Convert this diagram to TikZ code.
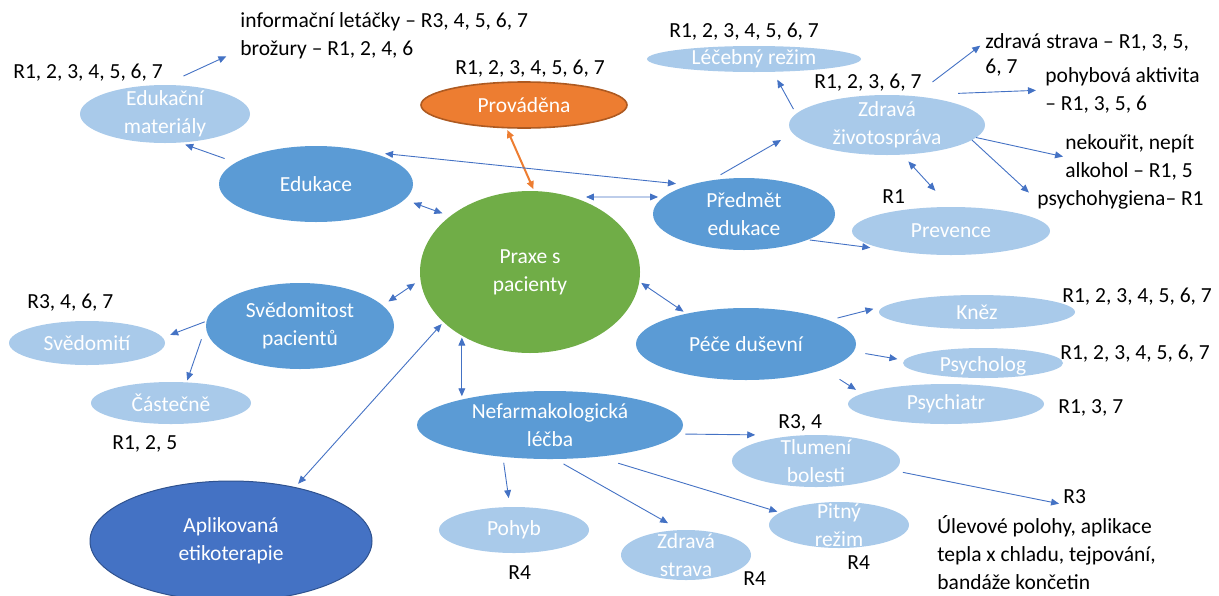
\documentclass[tikz,border=0pt]{standalone}
\usepackage{fontspec}
\setmainfont{Carlito}
\usetikzlibrary{shapes.geometric,arrows.meta}
\definecolor{accdark}{HTML}{5B9BD5}
\definecolor{acclight}{HTML}{A9CAEA}
\definecolor{accline}{HTML}{4472C4}
\definecolor{accgreen}{HTML}{70AD47}
\definecolor{accorange}{HTML}{ED7D31}
\definecolor{accorangeedge}{HTML}{AE5A21}
\definecolor{accnavy}{HTML}{4472C4}
\definecolor{accnavyedge}{HTML}{2F528F}

\begin{document}
\begin{tikzpicture}[x=0.5pt,y=-0.5pt,font=\fontsize{10.75pt}{14pt}\selectfont,
  bubble/.style={ellipse,inner sep=0pt,outer sep=0pt},
  lbl/.style={align=center,text=white,inner sep=0pt},
  dark/.style={bubble,fill=accdark},
  light/.style={bubble,fill=acclight},
  txt/.style={inner sep=0pt,anchor=west,align=left},
  link/.style={accline,line width=0.45pt,-{Triangle[length=4pt,width=3.4pt]}},
  both/.style={link,{Triangle[length=4pt,width=3.4pt]}-{Triangle[length=4pt,width=3.4pt]}}]

\useasboundingbox (0,0) rectangle (1219,595);

\begin{scope}
\node[bubble,fill=accgreen,minimum width=110pt,minimum height=81pt,label={[lbl]center:Praxe s\\pacienty}] (praxe) at (530,272) {};
\node[bubble,fill=accorange,draw=accorangeedge,line width=0.8pt,minimum width=103pt,minimum height=23pt,label={[lbl]center:Prováděna}] (provad) at (524,105) {};
\node[dark,minimum width=97pt,minimum height=38pt,label={[lbl]center:Edukace}] (edu) at (316,184) {};
\node[light,minimum width=85pt,minimum height=29pt,label={[lbl]center:Edukační\\materiály}] (edumat) at (165,114) {};
\node[light,minimum width=107pt,minimum height=13pt,label={[lbl]center:Léčebný režim}] (lecreg) at (754,59) {};
\node[light,minimum width=98pt,minimum height=30pt,label={[lbl]center:Zdravá\\životospráva}] (zdrav) at (887,125) {};
\node[dark,minimum width=91pt,minimum height=36pt,label={[lbl]center:Předmět\\edukace}] (predmet) at (744,214) {};
\node[light,minimum width=99pt,minimum height=24pt,label={[lbl]center:Prevence}] (prev) at (951,231) {};
\node[dark,minimum width=94pt,minimum height=43pt,label={[lbl]center:Svědomitost\\pacientů}] (svedom) at (300,326) {};
\node[light,minimum width=78pt,minimum height=22pt,label={[lbl]center:Svědomití}] (svedomiti) at (87,343) {};
\node[light,minimum width=80pt,minimum height=21pt,label={[lbl]center:Částečně}] (castecne) at (171,403) {};
\node[dark,minimum width=110pt,minimum height=36pt,label={[lbl]center:Péče duševní}] (pece) at (746,344) {};
\node[light,minimum width=98pt,minimum height=17pt,label={[lbl]center:Kněz}] (knez) at (977,312) {};
\node[light,minimum width=80pt,minimum height=15pt,label={[lbl,yshift=-1.5pt]center:Psycholog}] (psycholog) at (983,363) {};
\node[light,minimum width=98pt,minimum height=20pt,label={[lbl]center:Psychiatr}] (psychiatr) at (946,404) {};
\node[dark,minimum width=133pt,minimum height=34pt,label={[lbl]center:Nefarmakologická\\léčba}] (nefarm) at (550,425) {};
\node[light,minimum width=84pt,minimum height=26pt,label={[lbl]center:Tlumení\\bolesti}] (tlum) at (816,461) {};
\node[light,minimum width=75pt,minimum height=23pt,label={[lbl]center:Pohyb}] (pohyb) at (514,530) {};
\node[light,minimum width=65pt,minimum height=25pt,label={[lbl]center:Zdravá\\strava}] (zdrstr) at (686,555) {};
\node[light,minimum width=70pt,minimum height=23pt,label={[lbl]center:Pitný\\režim}] (pitny) at (839,525) {};
\node[bubble,fill=accnavy,draw=accnavyedge,line width=0.5pt,minimum width=141pt,minimum height=60pt,label={[lbl]center:Aplikovaná\\etikoterapie}] (aplik) at (231,541) {};
\end{scope}

\node[txt] (r_edumat) at (13,73) {R1, 2, 3, 4, 5, 6, 7};
\node[txt] (info1) at (240,22) {informační letáčky – R3, 4, 5, 6, 7};
\node[txt] (info2) at (240,50) {brožury – R1, 2, 4, 6};
\node[inner sep=0pt] (r_provad) at (530,69) {R1, 2, 3, 4, 5, 6, 7};
\node[txt] (r_lecreg) at (669,32) {R1, 2, 3, 4, 5, 6, 7};
\node[txt] (r_zdrav) at (814,83) {R1, 2, 3, 6, 7};
\node[txt] (strava1) at (985,42) {zdravá strava – R1, 3, 5,};
\node[txt] (strava2) at (985,68) {6, 7};
\node[txt] (pohybakt) at (1045,90) {pohybová aktivita\\– R1, 3, 5, 6};
\node[txt] (kour) at (1065,157) {nekouřit, nepít\\alkohol – R1, 5};
\node[txt] (psychohyg) at (1037,200) {psychohygiena– R1};
\node[txt] (r_prev) at (882,197) {R1};
\node[txt] (r_svedomiti) at (27,303) {R3, 4, 6, 7};
\node[txt] (r_castecne) at (112,444) {R1, 2, 5};
\node[txt] (r_knez) at (1062,297) {R1, 2, 3, 4, 5, 6, 7};
\node[txt] (r_psycholog) at (1060,354) {R1, 2, 3, 4, 5, 6, 7};
\node[txt] (r_psychiatr) at (1058,408) {R1, 3, 7};
\node[txt] (r_tlum) at (778,423) {R3, 4};
\node[txt] (r_ulev) at (1063,497) {R3};
\node[txt] (ulev) at (937,553) {Úlevové polohy, aplikace\\tepla x chladu, tejpování,\\bandáže končetin};
\node[txt] (r_pohyb) at (508,573) {R4};
\node[txt] (r_zdrstr) at (743,579) {R4};
\node[txt] (r_pitny) at (847,563) {R4};

\draw[both,accorange,line width=1pt,shorten <=1.2pt,shorten >=1pt] (provad.232) -- (praxe.87);
\draw[both,shorten <=4.7pt,shorten >=4.2pt] (edu.-10) -- (praxe.145);
\draw[both,shorten <=8.8pt,shorten >=6.9pt] (edu.32) -- (predmet.152);
\draw[both,shorten <=7.2pt,shorten >=2.9pt] (praxe.61) -- (predmet.168);
\draw[both,shorten <=3.5pt,shorten >=3.3pt] (svedom.14) -- (praxe.184);
\draw[both,shorten <=1.2pt,shorten >=1.8pt] (praxe.-5) -- (pece.153);
\draw[both,shorten <=1.4pt,shorten >=2.5pt] (praxe.210) -- (aplik.40);
\draw[both,shorten <=1pt,shorten >=1pt] (praxe.223) -- (praxe.223 |- nefarm.162);

\draw[link,shorten <=6pt,shorten >=3pt] (edu.165) -- (edumat.-63);
\draw[link,shorten <=10.7pt,shorten >=7.5pt] (edumat.92) -- (info2.west);

\draw[link,shorten <=5.8pt,shorten >=6.8pt] (predmet.135) -- (zdrav.185);
\draw[link,shorten <=1pt,shorten >=13pt] (predmet.-22) -- (prev.200);
\draw[link,shorten <=2.7pt,shorten >=4.5pt] (zdrav.173) -- (lecreg.-34);
\draw[both,shorten <=4.6pt,shorten >=11pt] (zdrav.-63) -- (prev.92);
\draw[link,shorten <=11.7pt,shorten >=3pt] (zdrav.47) -- (strava1.west);
\draw[link,shorten <=27pt,shorten >=4.5pt] (zdrav.60) -- (pohybakt.west);
\draw[link,shorten >=1pt] (zdrav.-8) -- (kour.west);
\draw[link,shorten >=5.5pt] (zdrav.-10) -- (psychohyg.west);

\draw[link,shorten <=1pt,shorten >=4pt] (svedom.177) -- (svedomiti.4);
\draw[link,shorten <=7pt,shorten >=1pt] (svedom.180) -- (castecne.53);

\draw[link,shorten <=4.5pt,shorten >=18pt] (pece.16) -- (knez.170);
\draw[link,shorten <=6pt,shorten >=3.5pt] (pece.-4) -- (psycholog.178);
\draw[link,shorten <=9.2pt,shorten >=3.6pt] (pece.-18) -- (psychiatr.173);

\draw[link,shorten <=3.5pt,shorten >=23pt] (nefarm.-4) -- (tlum.120);
\draw[link,shorten <=3pt,shorten >=4.5pt] (nefarm.214) -- (pohyb.100);
\draw[link,shorten <=5pt,shorten >=7pt] (nefarm.-82) -- (zdrstr.103);
\draw[link,shorten <=11pt,shorten >=1.5pt] (nefarm.-34) -- (pitny.168);
\draw[link,shorten <=4.5pt,shorten >=2pt] (tlum.-7) -- (r_ulev.south west);

\end{tikzpicture}
\end{document}
